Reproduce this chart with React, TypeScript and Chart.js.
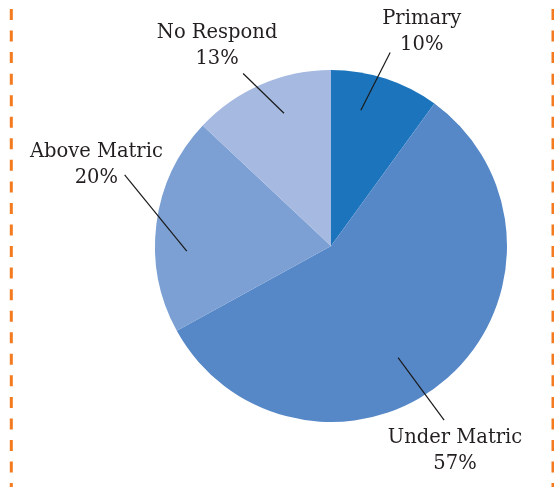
import React, { useEffect, useRef } from "react";
import { Chart, registerables } from "chart.js";

Chart.register(...registerables);

const categories = ["Primary", "Under Matric", "Above Matric", "No Respond"];
const values = [10, 57, 20, 13];
const percentLabels = ["10%", "57%", "20%", "13%"];
const colors = ["#1c75bc", "#5688c8", "#7ca0d4", "#a6b9e0"];

// label layout: [innerShiftDeg, innerR, outerShiftDeg, outerR, textShiftDeg, textR]
const labelLayout = [
  [-5.6, 0.79, -1, 1.15, 5, 1.32],
  [10.4, 0.74, 8.4, 1.18, 10.2, 1.36],
  [-9.2, 0.82, 11.8, 1.24, 11.8, 1.41],
  [3.9, 0.8, -3.6, 1.1, -6.2, 1.31],
];

const FONT = '19.5px "DejaVu Serif", serif';

const labelPlugin = {
  id: "leaderLabels",
  afterDraw(chart: any) {
    const ctx = chart.ctx;
    const meta = chart.getDatasetMeta(0);
    ctx.save();
    // dashed orange border lines
    ctx.strokeStyle = "#f47a20";
    ctx.lineWidth = 3;
    ctx.setLineDash([11, 10.55]);
    [11.3, 553].forEach((x) => {
      ctx.beginPath();
      ctx.moveTo(x, 9);
      ctx.lineTo(x, chart.height);
      ctx.stroke();
    });
    ctx.setLineDash([]);
    meta.data.forEach((arc: any, i: number) => {
      const { x, y, startAngle, endAngle, outerRadius } = arc.getProps(
        ["x", "y", "startAngle", "endAngle", "outerRadius"],
        true
      );
      const mid = (startAngle + endAngle) / 2;
      const L = labelLayout[i];
      const pt = (shift: number, rf: number) => {
        const a = mid + (shift * Math.PI) / 180;
        return [x + Math.cos(a) * rf * outerRadius, y + Math.sin(a) * rf * outerRadius];
      };
      const p1 = pt(L[0], L[1]);
      const p2 = pt(L[2], L[3]);
      const t = pt(L[4], L[5]);
      ctx.strokeStyle = "#1a1a1a";
      ctx.lineWidth = 1.2;
      ctx.beginPath();
      ctx.moveTo(p1[0], p1[1]);
      ctx.lineTo(p2[0], p2[1]);
      ctx.stroke();
      ctx.fillStyle = "#231f20";
      ctx.font = FONT;
      ctx.textAlign = "center";
      ctx.textBaseline = "middle";
      ctx.fillText(categories[i], t[0], t[1] - 13);
      ctx.fillText(percentLabels[i], t[0], t[1] + 13);
    });
    ctx.restore();
  },
};

export default function App() {
  const ref = useRef<HTMLCanvasElement>(null);
  useEffect(() => {
    document.body.style.margin = "0";
    const chart = new Chart(ref.current!, {
      type: "pie",
      data: {
        labels: categories,
        datasets: [
          {
            data: values,
            backgroundColor: colors,
            borderWidth: 0,
          },
        ],
      },
      options: {
        responsive: false,
        animation: false,
        layout: { padding: { left: 155, right: 47, top: 70, bottom: 65 } },
        plugins: { legend: { display: false }, tooltip: { enabled: false } },
      },
      plugins: [labelPlugin],
    });
    return () => chart.destroy();
  }, []);
  return (
    <div style={{ width: 554, height: 487, background: "#fff" }}>
      <canvas ref={ref} width={554} height={487} style={{ display: "block" }} />
    </div>
  );
}
